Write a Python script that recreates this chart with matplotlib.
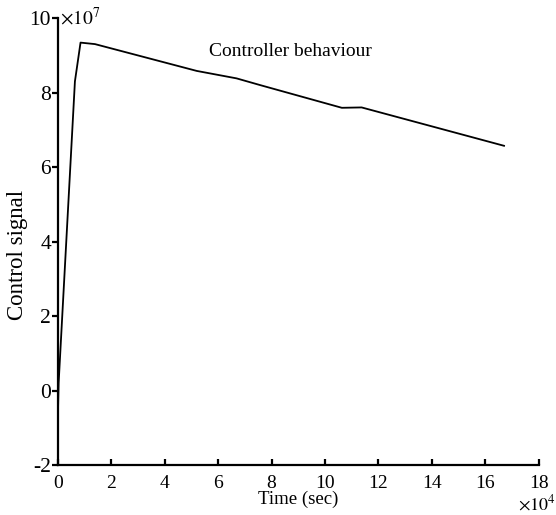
import matplotlib.pyplot as plt
import numpy as np

# tempo (s) e sinal de controle
tempo = [0, 300, 6400, 8500, 13900, 52000, 66900, 75700, 106300, 113700, 167000]
sinal = [-0.75e7, 0.2e7, 8.3e7, 9.34e7, 9.3e7, 8.58e7, 8.38e7, 8.2e7, 7.59e7, 7.6e7, 6.57e7]

x_ticks = [0, 2, 4, 6, 8, 10, 12, 14, 16, 18]
y_ticks = [-2, 0, 2, 4, 6, 8, 10]

plt.rcParams['font.family'] = ['Liberation Serif', 'DejaVu Serif']
plt.rcParams['mathtext.fontset'] = 'stix'

fig = plt.figure(figsize=(5.56, 5.15), dpi=100)
ax = fig.add_axes([0.104, 0.097, 0.865, 0.868])

ax.plot(np.array(tempo) / 1e4, np.array(sinal) / 1e7, color='black', linewidth=1.3)

ax.set_xlim(0, 18)
ax.set_ylim(-2, 10)
ax.set_xticks(x_ticks)
ax.set_yticks(y_ticks)
ax.set_xticklabels([str(v) for v in x_ticks], fontsize=14)
ax.set_yticklabels([str(v) for v in y_ticks], fontsize=15.5)

ax.spines['top'].set_visible(False)
ax.spines['right'].set_visible(False)
ax.spines['left'].set_linewidth(1.6)
ax.spines['bottom'].set_linewidth(1.6)
ax.tick_params(axis='x', direction='in', length=4, width=1.6, pad=7)
ax.tick_params(axis='y', direction='out', length=4, width=1.6, pad=1)

ax.set_xlabel('Time (sec)', fontsize=13.5, labelpad=-1)
ax.set_ylabel('Control signal', fontsize=16.5)
ax.yaxis.set_label_coords(-0.062, 0.47)

# multiplicadores
ax.text(0.005, 1.0, r'$\times10^7$', transform=ax.transAxes, fontsize=14,
        ha='left', va='center')
fig.text(0.999, 0.022, r'$\times10^4$', fontsize=13, ha='right', va='center')

ax.text(8.7, 9.1, 'Controller behaviour', fontsize=14, ha='center', va='center')

fig.savefig('out.png', dpi=100)
